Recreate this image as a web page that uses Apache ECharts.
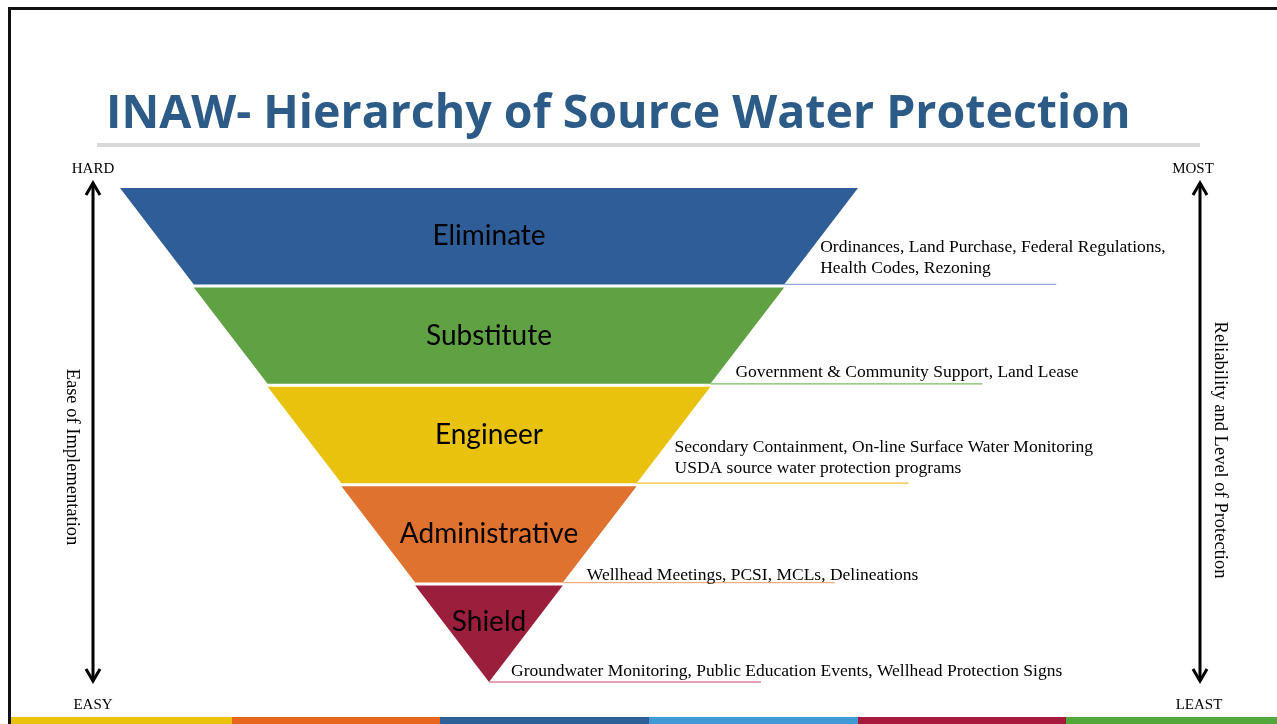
<!DOCTYPE html>
<html><head><meta charset="utf-8">
<script src="https://cdn.jsdelivr.net/npm/echarts@6/dist/echarts.min.js"></script>
<style>html,body{margin:0;padding:0;background:#fff}#c{width:1277px;height:724px}</style>
</head><body><div id="c"></div>
<script>
// ---- data ----
const levels = ['Eliminate', 'Substitute', 'Engineer', 'Administrative', 'Shield'];
const rank = [5, 4, 3, 2, 1];
const actions = [
  'Ordinances, Land Purchase, Federal Regulations,\nHealth Codes, Rezoning',
  'Government & Community Support, Land Lease',
  'Secondary Containment, On-line Surface Water Monitoring\nUSDA source water protection programs',
  'Wellhead Meetings, PCSI, MCLs, Delineations',
  'Groundwater Monitoring, Public Education Events, Wellhead Protection Signs'
];
const titleText = 'INAW- Hierarchy of Source Water Protection';
const leftAxisName = 'Ease of Implementation';
const leftEnds = ['HARD', 'EASY'];
const rightAxisName = 'Reliability and Level of Protection';
const rightEnds = ['MOST', 'LEAST'];

// ---- styles ----
const levelColors = ['#2f5d98', '#5fa143', '#e9c20d', '#e0722f', '#9b1f3d'];
const lineColors = ['#8eaadb', '#7dbb5e', '#f2c232', '#f4b183', '#d8849b'];
const textInset = [36, 25, 38, 24, 22];
const textLift = [4, 0, 3, -4, -1];
const nameLift = [0, 0, 0, 0, 12];
const barColors = ['#eac20c', '#e8651e', '#2d5f99', '#3f9ad6', '#a71a3d', '#53a83a'];

const geo = {
  left: 120, top: 188, width: 738, height: 494, gap: 3,
  min: 0, max: 5, minSize: '0%', maxSize: '100%',
  sort: 'descending', orient: 'vertical', funnelAlign: 'center'
};

const chart = echarts.init(document.getElementById('c'), null, { renderer: 'canvas' });

function arrow(x, y1, y2) {
  const s = { stroke: '#000', lineWidth: 3, fill: null };
  return [
    { type: 'line', shape: { x1: x, y1: y1 + 2, x2: x, y2: y2 - 2 }, style: s },
    { type: 'polyline', shape: { points: [[x - 7, y1 + 14], [x, y1 + 2], [x + 7, y1 + 14]] }, style: s },
    { type: 'polyline', shape: { points: [[x - 7, y2 - 14], [x, y2 - 2], [x + 7, y2 - 14]] }, style: s }
  ];
}

const serif = '"Liberation Serif", "Times New Roman", serif';
const graphics = [
  { type: 'rect', shape: { x: 8, y: 7, width: 1280, height: 3 }, style: { fill: '#111' } },
  { type: 'rect', shape: { x: 8, y: 7, width: 3, height: 720 }, style: { fill: '#111' } },
  { type: 'text', x: 106, y: 115, style: { text: titleText, fill: '#2b5b86', font: 'bold 46.5px "Open Sans", sans-serif', verticalAlign: 'middle' } },
  { type: 'rect', shape: { x: 97, y: 143, width: 1103, height: 4 }, style: { fill: '#d9d9d9' } },
  { type: 'text', x: 93, y: 169, style: { text: leftEnds[0], fill: '#000', font: '15px ' + serif, align: 'center', verticalAlign: 'middle' } },
  { type: 'text', x: 93, y: 705, style: { text: leftEnds[1], fill: '#000', font: '15px ' + serif, align: 'center', verticalAlign: 'middle' } },
  { type: 'text', x: 1193, y: 169, style: { text: rightEnds[0], fill: '#000', font: '15px ' + serif, align: 'center', verticalAlign: 'middle' } },
  { type: 'text', x: 1199, y: 705, style: { text: rightEnds[1], fill: '#000', font: '15px ' + serif, align: 'center', verticalAlign: 'middle' } },
  { type: 'text', x: 72, y: 457, rotation: -Math.PI / 2, style: { text: leftAxisName, fill: '#000', font: '18.5px ' + serif, align: 'center', verticalAlign: 'middle' } },
  { type: 'text', x: 1220, y: 450, rotation: -Math.PI / 2, style: { text: rightAxisName, fill: '#000', font: '18.5px ' + serif, align: 'center', verticalAlign: 'middle' } }
].concat(arrow(93, 181, 683), arrow(1200, 181, 683));

const barEdges = [11, 232, 440, 649, 858, 1066, 1277];
barColors.forEach((c, i) => {
  graphics.push({ type: 'rect', shape: { x: barEdges[i], y: 717, width: barEdges[i + 1] - barEdges[i], height: 7 }, style: { fill: c } });
});

const option = {
  animation: false,
  backgroundColor: '#fff',
  graphic: graphics,
  series: [
    Object.assign({
      type: 'funnel',
      name: 'levels',
      silent: true,
      emphasis: { disabled: true },
      itemStyle: { borderWidth: 0 },
      label: { show: true, position: 'inside', color: '#000', fontFamily: 'Lato, sans-serif', fontSize: 28 },
      labelLine: { show: false },
      labelLayout: function (p) {
        const lift = nameLift[p.dataIndex];
        if (!lift) return {};
        const r = p.labelRect;
        return { x: r.x + r.width / 2, y: r.y + r.height / 2 - lift, align: 'center', verticalAlign: 'middle' };
      },
      data: levels.map((n, i) => ({ name: n, value: rank[i], itemStyle: { color: levelColors[i] } }))
    }, geo),
    Object.assign({
      type: 'funnel',
      name: 'actions',
      silent: true,
      z: 3,
      emphasis: { disabled: true },
      itemStyle: { color: 'rgba(0,0,0,0)', borderWidth: 0 },
      label: {
        show: true, position: 'rightBottom', color: '#000',
        fontFamily: serif, fontSize: 17.5, lineHeight: 21,
        formatter: p => actions[p.dataIndex]
      },
      labelLine: { show: true, length: 272, lineStyle: { width: 1.3 } },
      labelLayout: function (p) {
        const pts = p.labelLinePoints;
        if (!pts) return {};
        return {
          x: pts[0][0] + textInset[p.dataIndex],
          y: pts[0][1] - 1 - textLift[p.dataIndex],
          align: 'left',
          verticalAlign: 'bottom',
          labelLinePoints: pts
        };
      },
      data: levels.map((n, i) => ({ name: n, value: rank[i], labelLine: { lineStyle: { color: lineColors[i] } } }))
    }, geo)
  ]
};
chart.setOption(option);
</script></body></html>
